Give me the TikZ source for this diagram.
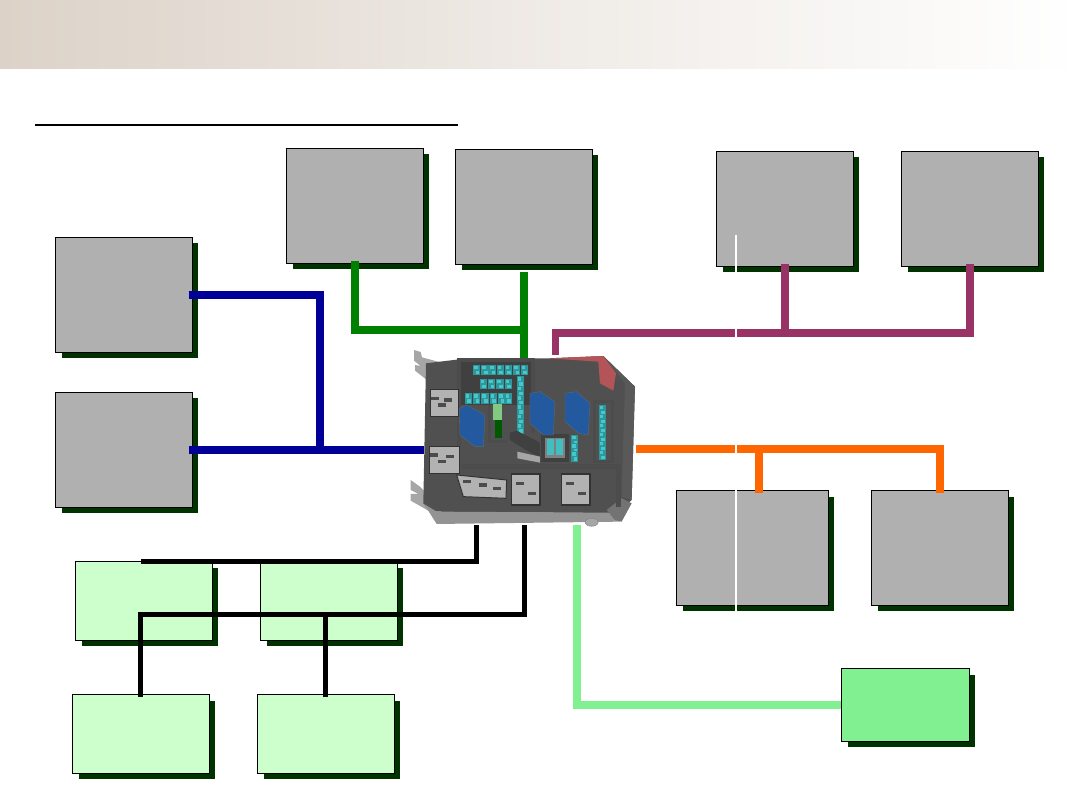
\documentclass[tikz,border=0pt]{standalone}
\usepackage{xcolor}
\usetikzlibrary{positioning,shadows}
\definecolor{shadowgreen}{HTML}{003300}
\definecolor{unitgray}{HTML}{B0B0B0}
\definecolor{palegreen}{HTML}{CCFFCC}
\definecolor{midgreen}{HTML}{80F090}
\definecolor{busblue}{HTML}{000099}
\definecolor{busgreen}{HTML}{008000}
\definecolor{buspurple}{HTML}{993366}
\definecolor{busorange}{HTML}{FF6600}
\definecolor{bandtan}{HTML}{DCD2C8}
\definecolor{fuseteal}{HTML}{2F969C}
\definecolor{fusebright}{HTML}{45C8CC}
\definecolor{ecudark}{HTML}{505050}
\definecolor{ecublue}{HTML}{23599F}
\definecolor{ecured}{HTML}{B25458}
\newcommand{\fuseblob}[2]{
	\fill[fuseteal] (#1-11,#2-16) rectangle (#1+11,#2+16);
	\fill[fusebright] (#1-8,#2-13) rectangle (#1+3,#2-2);
	\fill[fusebright] (#1-3,#2+2) rectangle (#1+8,#2+13);
}

\begin{document}
\begin{tikzpicture}[
	x=1pt,y=-1pt,
	box/.style={
		draw=black,
		line width=1pt,
		inner sep=0pt,
		anchor=north west,
		minimum width=136.6pt,
		drop shadow={shadow xshift=6pt,shadow yshift=-6pt,fill=shadowgreen,opacity=1}
	},
	unit/.style={box,fill=unitgray,minimum height=114.6pt},
	sensor/.style={box,fill=palegreen,minimum height=78.6pt},
	wire/.style={line width=7.5pt,line join=miter},
	sig/.style={line width=5pt,line join=miter}
	]
	
	\useasboundingbox (0,0) rectangle (1080,810);
	\shade[left color=bandtan,right color=white,middle color=bandtan!45!white] (0,0) rectangle (1080,69);
	\draw[line width=2pt] (35,125) -- (458,125);
	
	\node[unit] (lefta) at (55,237) {};
	\node[unit] (leftb) at (55,392) {};
	\node[unit] (topa) at (286,148) {};
	\node[unit] (topb) at (455,149) {};
	\node[unit] (righta) at (716,151) {};
	\node[unit] (rightb) at (901,151) {};
	\node[unit,minimum width=151.6pt] (lowa) at (676,490) {};
	\node[unit] (lowb) at (871,490) {};
	\node[sensor] (sensa) at (75,561) {};
	\node[sensor] (sensb) at (260,561) {};
	\node[sensor] (sensc) at (72,694) {};
	\node[sensor] (sensd) at (257,694) {};
	\node[box,fill=midgreen,minimum width=127.6pt,minimum height=72.6pt] (diag) at (841,668) {};
	\node[anchor=north west,minimum width=212pt,minimum height=170pt,inner sep=0pt] (ecu) at (424,355) {};
	
	\coordinate (bluejoin) at (320,449.5);
	\coordinate (greenjoin) at (523.5,330);
	\coordinate (purpleout) at (555.5,333);
	\coordinate (orangeend) at (939.5,449);
	\coordinate (orangedrop) at (759,449);
	\coordinate (blackout) at (476,561);
	\coordinate (blackbus) at (524,614);
	\coordinate (greenout) at (577,705);
	
	\draw[wire,busblue,shorten <=-4pt] (lefta.east) -| (bluejoin);
	\draw[wire,busblue,shorten <=-4pt] (leftb.east) -- (leftb.east -| ecu.west);
	\draw[wire,busgreen,shorten <=-3pt] (topa.south) |- (greenjoin);
	\draw[wire,busgreen,shorten <=7pt,shorten >=-3pt] (topb.south) -- (topb.south |- ecu.north);
	\draw[wire,buspurple] (purpleout |- ecu.north) -- (purpleout) -| ([yshift=3pt]rightb.south);
	\draw[wire,buspurple] ([yshift=3pt]righta.south) -- (righta.south |- purpleout);
	\draw[wire,busorange] (ecu.east |- orangeend) -| ([yshift=-3pt]lowb.north);
	\draw[wire,busorange] (orangedrop) -- ([yshift=-3pt]lowa.north -| orangedrop);
	\draw[sig,shorten >=-1pt] (ecu.south -| blackout) -- (blackout) -- (142,561);
	\draw[sig] (ecu.south -| blackbus) -- (blackbus) -| ([yshift=-3pt]sensc.north);
	\draw[sig] (sensd.north) ++(0,3) -- (sensd.north |- blackbus);
	\draw[wire,midgreen] (ecu.south -| greenout) |- (diag.west);
	
	\draw[white,line width=1.3pt] (736,235) -- (736,612);
	
	% fuse box
	\begin{scope}[shift={(400,340)},x=.3333pt,y=-.3333pt]
		\fill[gray!70] (42,30) -- (62,36) -- (66,52) -- (125,68) -- (100,135) -- (45,92) -- (45,75) -- (62,78) -- (42,62) -- cycle;
		\fill[gray!70] (32,420) -- (60,440) -- (90,470) -- (90,515) -- (32,482) -- (32,462) -- (56,462) -- (32,450) -- cycle;
		\fill[ecudark] (78,70) -- (178,58) -- (445,55) -- (610,48) -- (705,140) -- (695,480) -- (650,520) -- (90,515) -- (70,490) -- cycle;
		\fill[black!65] (610,48) -- (705,140) -- (695,480) -- (665,470) -- (675,130) -- cycle;
		\fill[gray!85] (72,492) -- (110,515) -- (625,518) -- (662,545) -- (110,552) -- cycle;
		\fill[black!55] (620,510) -- (665,475) -- (695,490) -- (665,545) -- (645,540) -- cycle;
		\fill[ecured] (445,55) -- (610,48) -- (648,100) -- (640,152) -- (600,130) -- (595,65) -- cycle;
		\fill[black!75] (178,58) rectangle (402,195);
		\draw[black!70,line width=4pt] (178,340) -- (178,60) -- (400,60) -- (400,280);
		\draw[black!70,line width=5pt] (182,380) -- (655,380) -- (655,500);
		\foreach \x in {230,255,278,301,325,350,373} {\fuseblob{\x}{90}}
		\foreach \x in {250,275,300,325} {\fuseblob{\x}{132}}
		\foreach \x in {205,230,255,280,305,325} {\fuseblob{\x}{175}}
		\foreach \y in {125,153,181,209,237,265} {\fuseblob{361}{\y}}
		\draw[black!70,line width=3pt] (585,185) rectangle (638,365);
		\foreach \y in {210,237,264,291,318,345} {\fuseblob{607}{\y}}
		\foreach \y in {300,325,350} {\fuseblob{524}{\y}}
		\draw[black!75,line width=4pt,fill=gray] (430,288) rectangle (500,360);
		\fill[fusebright!80!fuseteal] (440,298) rectangle (462,345);
		\fill[fusebright!80!fuseteal] (468,298) rectangle (490,345);
		\fill[green!40!gray!70!white] (280,192) rectangle (305,240);
		\fill[green!35!black] (284,240) rectangle (305,295);
		\draw[black!70,line width=3pt] (268,195) -- (268,305) -- (320,305);
		\fill[black!75] (330,278) -- (350,272) -- (420,308) -- (420,350) -- (395,340) -- (330,300) -- cycle;
		\fill[gray!70] (352,335) -- (420,350) -- (420,368) -- (352,355) -- cycle;
		\fill[ecublue,draw=black!60] (178,205) -- (200,195) -- (255,225) -- (250,320) -- (225,320) -- (180,285) -- cycle;
		\fill[ecublue,draw=black!60] (390,160) -- (420,155) -- (465,185) -- (460,285) -- (430,285) -- (390,250) -- cycle;
		\fill[ecublue,draw=black!60] (495,160) -- (530,155) -- (570,190) -- (565,285) -- (535,280) -- (495,245) -- cycle;
		\fill[gray!60,draw=black!80,line width=1pt] (90,150) rectangle (175,230);
		\fill[gray!60,draw=black!80,line width=1pt] (88,320) rectangle (178,400);
		\fill[gray!60,draw=black!80,line width=1pt] (170,405) -- (320,420) -- (318,475) -- (190,470) -- cycle;
		\fill[gray!60,draw=black!80,line width=1.5pt] (335,402) rectangle (420,495);
		\fill[gray!60,draw=black!80,line width=1.5pt] (485,402) rectangle (570,495);
		\foreach \x/\y in {105/175,125/195,145/180,103/345,125/365,150/350,200/425,250/435,290/445,360/430,395/460,510/430,545/460}
			\fill[black!70] (\x-12,\y-5) rectangle (\x+12,\y+5);
		\fill[gray!70,draw=black!50] (575,547) ellipse (6.5pt and 4pt);
	\end{scope}
	
\end{tikzpicture}
\end{document}
